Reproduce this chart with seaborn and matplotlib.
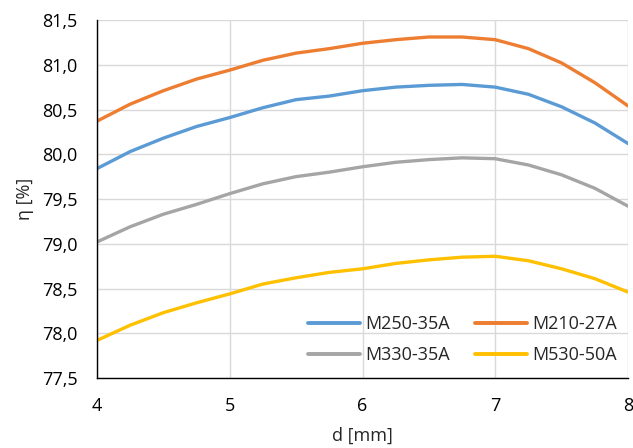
import numpy as np
import pandas as pd
import matplotlib
matplotlib.use("Agg")
import matplotlib.pyplot as plt
from matplotlib.ticker import FuncFormatter, MultipleLocator
from matplotlib.lines import Line2D
import seaborn as sns

d_mm = [4.0, 4.25, 4.5, 4.75, 5.0, 5.25, 5.5, 5.75, 6.0, 6.25, 6.5, 6.75, 7.0, 7.25, 7.5, 7.75, 8.0]
m250_35a = [79.84, 80.03, 80.18, 80.31, 80.41, 80.52, 80.61, 80.65, 80.71, 80.75, 80.77, 80.78, 80.75, 80.67, 80.53, 80.35, 80.12]
m210_27a = [80.37, 80.56, 80.71, 80.84, 80.94, 81.05, 81.13, 81.18, 81.24, 81.28, 81.31, 81.31, 81.28, 81.18, 81.02, 80.80, 80.54]
m330_35a = [79.02, 79.19, 79.33, 79.44, 79.56, 79.67, 79.75, 79.80, 79.86, 79.91, 79.94, 79.96, 79.95, 79.88, 79.77, 79.62, 79.42]
m530_50a = [77.92, 78.09, 78.23, 78.34, 78.44, 78.55, 78.62, 78.68, 78.72, 78.78, 78.82, 78.85, 78.86, 78.81, 78.72, 78.61, 78.46]

series_names = ["M250-35A", "M210-27A", "M330-35A", "M530-50A"]
series_values = [m250_35a, m210_27a, m330_35a, m530_50a]
colors = ["#5B9BD5", "#ED7D31", "#A5A5A5", "#FFC000"]

rows = []
for name, vals in zip(series_names, series_values):
    for x, y in zip(d_mm, vals):
        rows.append({"d": x, "eta": y, "series": name})
df = pd.DataFrame(rows)

sns.set_style("white")
plt.rcParams["font.family"] = ["Open Sans", "DejaVu Sans"]

fig = plt.figure(figsize=(6.33, 4.48), dpi=100)
ax = fig.add_axes([97/633, 1-378/448, (628-97)/633, (378-20)/448])

sns.lineplot(data=df, x="d", y="eta", hue="series", hue_order=series_names,
             palette=dict(zip(series_names, colors)), linewidth=2.4, ax=ax,
             legend=False, zorder=3, solid_joinstyle="round", solid_capstyle="round")

ax.set_xlim(4, 8)
ax.set_ylim(77.5, 81.5)
ax.xaxis.set_major_locator(MultipleLocator(1))
ax.yaxis.set_major_locator(MultipleLocator(0.5))
ax.yaxis.set_major_formatter(FuncFormatter(lambda v, p: f"{v:.1f}".replace(".", ",")))
ax.xaxis.set_major_formatter(FuncFormatter(lambda v, p: f"{v:.0f}"))
ax.grid(True, color="#D9D9D9", linewidth=1.0, zorder=0)
ax.set_axisbelow(True)
for s in ["top", "right"]:
    ax.spines[s].set_visible(False)
for s in ["left", "bottom"]:
    ax.spines[s].set_color("black")
    ax.spines[s].set_linewidth(1.0)
    ax.spines[s].set_zorder(4)
ax.tick_params(axis="both", length=0, labelsize=13, colors="black")
ax.tick_params(axis="y", pad=14)
ax.tick_params(axis="x", pad=14)
ax.set_xlabel("d [mm]", fontsize=13, labelpad=8)
ax.set_ylabel("η [%]", fontsize=13, labelpad=6)

handles = [Line2D([], [], color=c, linewidth=2.8) for c in colors]
order = [0, 2, 1, 3]
leg = ax.legend([handles[i] for i in order], [series_names[i] for i in order],
                ncol=2, frameon=False, loc="lower right",
                bbox_to_anchor=(1.01, -0.006), fontsize=13, handlelength=2.9,
                handletextpad=0.3, columnspacing=1.35, labelspacing=0.72)

fig.savefig("out.png", dpi=100)
